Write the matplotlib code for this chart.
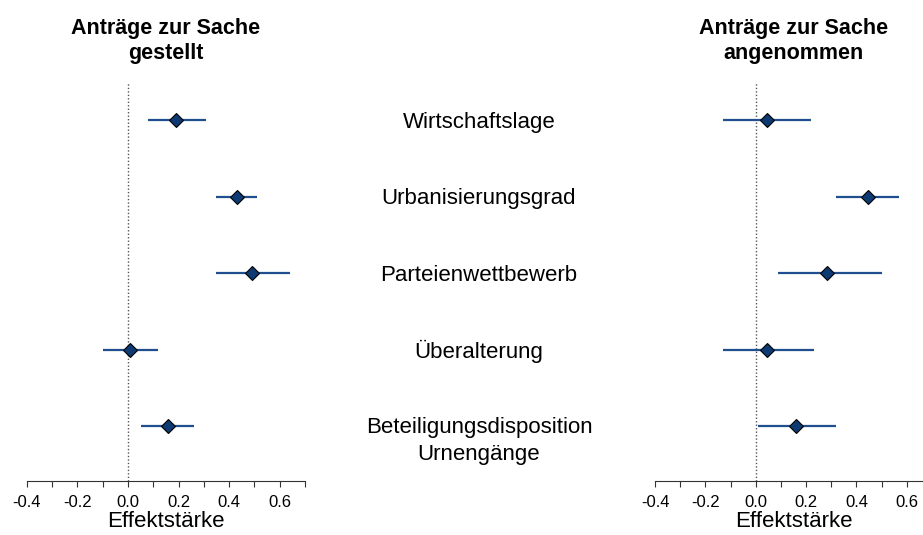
import numpy as np
import matplotlib.pyplot as plt
from matplotlib.transforms import blended_transform_factory

plt.rcParams['font.family'] = ['Liberation Sans', 'DejaVu Sans']

# data
labels = ["Wirtschaftslage", "Urbanisierungsgrad", "Parteienwettbewerb",
          "Überalterung", "Beteiligungsdisposition\nUrnengänge"]
gestellt_est = [0.19, 0.43, 0.49, 0.01, 0.16]
gestellt_lo = [0.08, 0.35, 0.35, -0.10, 0.05]
gestellt_hi = [0.31, 0.51, 0.64, 0.12, 0.26]
angenommen_est = [0.045, 0.445, 0.285, 0.045, 0.16]
angenommen_lo = [-0.13, 0.32, 0.09, -0.13, 0.01]
angenommen_hi = [0.22, 0.57, 0.50, 0.23, 0.32]
ticks = [-0.4, -0.3, -0.2, -0.1, 0.0, 0.1, 0.2, 0.3, 0.4, 0.5, 0.6, 0.7]
ticklabels = ["-0.4", "", "-0.2", "", "0.0", "", "0.2", "", "0.4", "", "0.6", ""]

W, H = 923, 535
fig = plt.figure(figsize=(W / 100, H / 100), dpi=100)

ax1 = fig.add_axes([26.7 / W, 1 - 481 / H, 278.3 / W, 399 / H])
ax2 = fig.add_axes([655 / W, 1 - 481 / H, 277 / W, 399 / H])

line_col = '#1f4f8f'
mark_col = '#0d3a73'
y = np.arange(len(labels))

for ax, est, lo, hi in [(ax1, gestellt_est, gestellt_lo, gestellt_hi),
                        (ax2, angenommen_est, angenommen_lo, angenommen_hi)]:
    ax.axvline(0, color='#555555', lw=1, ls=(0, (1, 1.5)), zorder=1)
    ax.hlines(y, lo, hi, color=line_col, lw=1.6, zorder=2)
    ax.plot(est, y, 'D', ms=7, mfc=mark_col, mec='black', mew=0.8, zorder=3)
    ax.set_xlim(-0.4, 0.7)
    ax.set_ylim(4.72, -0.5)
    ax.set_xticks(ticks)
    ax.set_xticklabels(ticklabels, fontsize=12)
    ax.set_yticks([])
    for s in ['top', 'right', 'left']:
        ax.spines[s].set_visible(False)
    ax.spines['bottom'].set_color('#333333')
    ax.tick_params(axis='x', direction='out', length=4, width=0.8,
                   color='#333333', pad=6)
    ax.set_xlabel("Effektstärke", fontsize=16, labelpad=1)
    ax.patch.set_alpha(0)

# row labels in the middle
tr = blended_transform_factory(fig.transFigure, ax1.transData)
for i, lab in enumerate(labels):
    yy = i + 0.2 if "\n" in lab else i + 0.03
    fig.text(479 / W, yy, lab, transform=tr, ha='center', va='center',
             fontsize=16, linespacing=1.35)

fig.text(166 / W, 1 - 41 / H, "Anträge zur Sache\ngestellt", ha='center',
         va='center', fontsize=15.5, fontweight='bold', linespacing=1.25)
fig.text(793.5 / W, 1 - 41 / H, "Anträge zur Sache\nangenommen", ha='center',
         va='center', fontsize=15.5, fontweight='bold', linespacing=1.25)

fig.savefig('out.png', dpi=100)
